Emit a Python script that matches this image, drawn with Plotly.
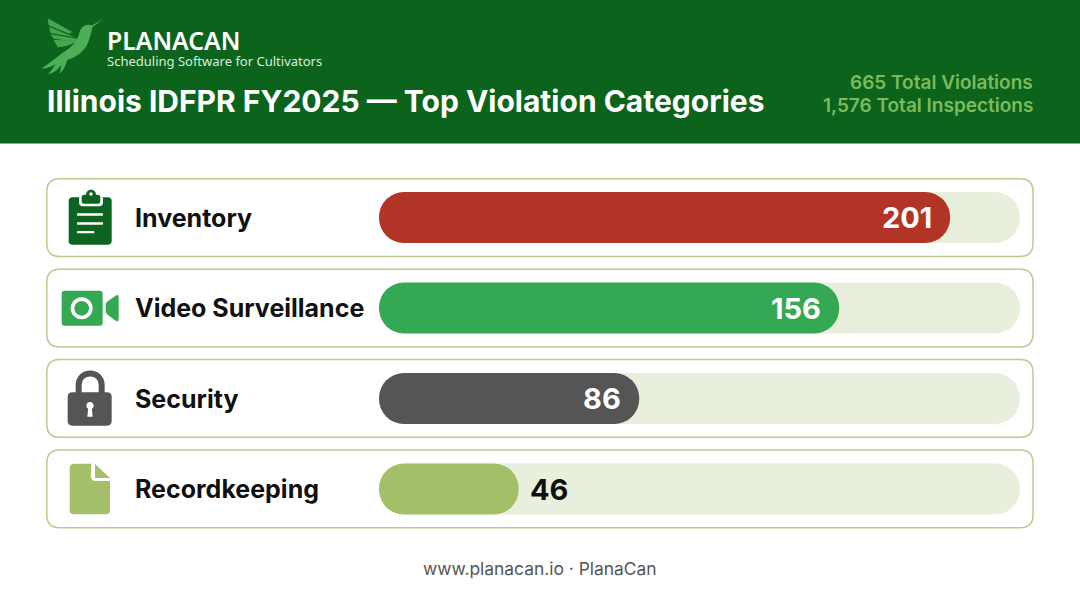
import plotly.graph_objects as go

# ---- data ----
categories = ["Inventory", "Video Surveillance", "Security", "Recordkeeping"]
violations = [201, 156, 86, 46]
# how much of the pale track each bar fills in the picture (percent)
track_share = [89.1, 71.8, 40.6, 21.8]
track_full = [100, 100, 100, 100]
bar_colors = ["#B23427", "#34A853", "#555555", "#A3BF68"]
label_colors = ["#FFFFFF", "#FFFFFF", "#FFFFFF", "#111111"]
title_text = "Illinois IDFPR FY2025 — Top Violation Categories"
brand_name = "PLANACAN"
brand_tag = "Scheduling Software for Cultivators"
summary_lines = ["665 Total Violations", "1,576 Total Inspections"]
footer_text = "www.planacan.io · PlanaCan"

W, H = 1080, 603
HEADER = "#0C641C"
BIRD = "#4CAF57"
BIRD2 = "#46A550"
TRACK = "#E8EFDC"
CARD_LINE = "#BCC98F"


def tr(path, ox=0.0, oy=0.0, s=1.0):
    """Turn a path written in pixels into paper coordinates."""
    out, pair = [], []
    for tok in path.split():
        if tok.isalpha():
            out.append(tok)
        else:
            pair.append(float(tok))
            if len(pair) == 2:
                x = (ox + pair[0] * s) / W
                y = 1 - (oy + pair[1] * s) / H
                out.append(f"{x:.5f},{y:.5f}")
                pair = []
    return " ".join(out)


def rrect(x0, y0, x1, y1, r):
    return (f"M {x0+r} {y0} L {x1-r} {y0} Q {x1} {y0} {x1} {y0+r} L {x1} {y1-r} Q {x1} {y1} {x1-r} {y1} "
            f"L {x0+r} {y1} Q {x0} {y1} {x0} {y1-r} L {x0} {y0+r} Q {x0} {y0} {x0+r} {y0} Z")


def circle(cx, cy, r):
    k = 0.5523 * r
    return (f"M {cx-r} {cy} C {cx-r} {cy-k} {cx-k} {cy-r} {cx} {cy-r} C {cx+k} {cy-r} {cx+r} {cy-k} {cx+r} {cy} "
            f"C {cx+r} {cy+k} {cx+k} {cy+r} {cx} {cy+r} C {cx-k} {cy+r} {cx-r} {cy+k} {cx-r} {cy} Z")


shapes = []


def fill(path, color, ox=0.0, oy=0.0, s=1.0, layer="below"):
    shapes.append(dict(type="path", xref="paper", yref="paper", path=tr(path, ox, oy, s),
                       fillcolor=color, line=dict(width=0), layer=layer))


def stroke(path, color, width, ox=0.0, oy=0.0, s=1.0, fc="rgba(0,0,0,0)"):
    shapes.append(dict(type="path", xref="paper", yref="paper", path=tr(path, ox, oy, s),
                       fillcolor=fc, line=dict(width=width, color=color), layer="below"))


# header band
fill(rrect(0, 0, W, 143.5, 0), HEADER)

# hummingbird (coordinates taken at 3x from the logo)
LX, LY, LS = 35, 10, 1 / 3
fill("M 38 25 L 112 66 L 102 71 L 41 46 Z", BIRD2, LX, LY, LS)
fill("M 42 50 L 100 74 L 120 82 L 47 69 Z", BIRD2, LX, LY, LS)
fill("M 47 73 L 127 86 L 122 95 L 55 86 Z", BIRD2, LX, LY, LS)
fill("M 56 90 L 130 91 C 112 102 95 110 68 112 Z", BIRD2, LX, LY, LS)
fill("M 205 27 L 172 46 C 155 40 138 48 133 68 C 128 92 112 108 90 124 C 72 136 48 156 20 176 "
     "C 36 176 50 170 62 162 C 54 174 48 184 40 192 C 56 190 70 178 78 164 C 78 176 76 184 72 192 "
     "C 86 182 94 162 96 150 C 124 142 150 124 160 96 C 167 78 170 62 172 52 Z", BIRD, LX, LY, LS)

# row cards
for y0, y1 in [(178.7, 256.5), (269.3, 347), (359.5, 437.3), (450, 527.7)]:
    stroke(rrect(46.8, y0, 1033, y1, 13), CARD_LINE, 1.5, fc="#FFFFFF")

# clipboard icon
O = (55, 180, 1 / 3)
CB = "#0C6420"
fill(rrect(41, 52, 170, 194, 12), CB, *O)
fill(rrect(72, 46, 144, 79, 12), "#FFFFFF", *O)
fill(rrect(80, 44, 136, 71, 8), CB, *O)
fill(circle(108, 44, 15), CB, *O)
fill(circle(108, 42, 5), "#FFFFFF", *O)
fill(rrect(66, 100, 144, 107, 2), "#FFFFFF", *O)
fill(rrect(66, 127, 144, 134, 2), "#FFFFFF", *O)
fill(rrect(66, 153, 118, 160, 2), "#FFFFFF", *O)

# camera icon
O = (55, 280, 1 / 3)
CG = "#34A853"
fill(rrect(20, 32, 143, 137, 9), CG, *O)
fill(circle(80, 85, 33), "#FFFFFF", *O)
fill(circle(80, 85, 22), CG, *O)
fill("M 152 74 Q 152 68 158 64 L 182 47 Q 191 42 191 52 L 191 117 Q 191 127 182 122 L 158 104 "
     "Q 152 100 152 94 Z", CG, *O)

# padlock icon
O = (55, 365, 1 / 3)
LK = "#555555"
stroke("M 71 85 L 71 60 C 71 14 140 14 140 60 L 140 85", LK, 6, *O)
fill(rrect(38, 82, 170, 182, 14), LK, *O)
fill(circle(105, 122, 11), "#FFFFFF", *O)
fill("M 100 125 L 97 155 L 113 155 L 110 125 Z", "#FFFFFF", *O)

# document icon
O = (55, 455, 1 / 3)
DC = "#A3BF68"
fill("M 58 26 L 108 26 L 108 64 Q 108 78 122 78 L 165 78 L 165 165 Q 165 178 152 178 L 58 178 "
     "Q 44 178 44 165 L 44 40 Q 44 26 58 26 Z", DC, *O)
fill("M 120 27 L 165 69 L 120 69 Z", DC, *O)


def pill(values, colors):
    return go.Bar(x=values, y=categories, orientation="h", base=[0] * len(values), width=51 / 90.5,
                  hoverinfo="skip", showlegend=False,
                  marker=dict(color=colors, cornerradius=25.5, line=dict(width=0)))


fig = go.Figure()
fig.add_trace(pill(track_full, [TRACK] * len(categories)))
fig.add_trace(pill(track_share, bar_colors))

ann = []
for cat, share, n, col in zip(categories, track_share, violations, label_colors):
    inside = share > 30
    ann.append(dict(x=share, y=cat, xref="x", yref="y", text=str(n), showarrow=False,
                    xanchor="right" if inside else "left", xshift=-16.5 if inside else 9,
                    font=dict(family="Inter", size=29, color=col, weight=700)))
    ann.append(dict(x=135 / W, y=cat, xref="paper", yref="y", text=cat, showarrow=False, xanchor="left",
                    xshift=-2, font=dict(family="Inter", size=25, color="#111111", weight=700)))


def label(x, y, text, size, color, anchor="left", family="Inter", weight=400, height=None):
    shift = {"left": -2, "right": 2, "center": 0}[anchor]
    a = dict(x=x / W, y=1 - y / H, xref="paper", yref="paper", text=text, showarrow=False,
             xanchor=anchor, yanchor="middle", xshift=shift,
             font=dict(family=family, size=size, color=color, weight=weight))
    if height:
        a["height"] = height
    ann.append(a)


label(107, 40, brand_name, 24.8, "#FFFFFF", family="Noto Sans", weight=600, height=22)
label(107, 61, brand_tag, 13, "#DCEBDD", family="Noto Sans", height=17)
label(47, 101, title_text, 30, "#FFFFFF", weight=700)
label(1033, 82, summary_lines[0], 19, "#7CBB5C", anchor="right", weight=600)
label(1033, 106, summary_lines[1], 19, "#7CBB5C", anchor="right", weight=600)
label(540, 568, footer_text, 17.4, "#555555", anchor="center")

fig.update_layout(
    width=W, height=H, margin=dict(l=0, r=0, t=0, b=0), autosize=False,
    paper_bgcolor="#FFFFFF", plot_bgcolor="rgba(0,0,0,0)", barmode="overlay",
    shapes=shapes, annotations=ann,
    xaxis=dict(domain=[379 / W, 1020 / W], range=[0, 100], visible=False, fixedrange=True),
    yaxis=dict(domain=[1 - 534.25 / H, 1 - 172.25 / H], categoryorder="array", categoryarray=categories,
               autorange="reversed", visible=False, fixedrange=True),
)
fig.write_html("out.html", config=dict(displayModeBar=False),
               post_script="document.body.style.margin='0';document.body.style.overflow='hidden';")
